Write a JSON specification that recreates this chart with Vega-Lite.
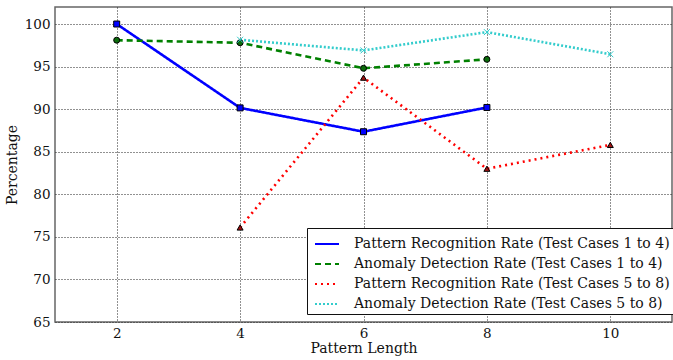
{
  "$schema": "https://vega.github.io/schema/vega-lite/v6.json",
  "width": 617,
  "height": 315,
  "autosize": {"type": "none"},
  "padding": {"left": 55, "top": 7, "right": 1, "bottom": 38},
  "background": "white",
  "config": {
    "font": "DejaVu Serif",
    "view": {"stroke": "#666", "strokeWidth": 1.5},
    "axis": {
      "labelFont": "DejaVu Serif",
      "labelFontSize": 13.5,
      "labelColor": "#111",
      "titleFont": "DejaVu Serif",
      "titleFontSize": 14,
      "titleFontWeight": "normal",
      "titleColor": "#111",
      "domain": false,
      "ticks": false,
      "grid": true,
      "gridColor": "#222",
      "gridDash": [1, 2],
      "gridWidth": 1
    },
    "legend": {
      "labelFont": "DejaVu Serif",
      "labelFontSize": 14,
      "labelColor": "#111"
    }
  },
  "data": {
    "values": [
      {"x": 2, "y": 100.0, "series": "Pattern Recognition Rate (Test Cases 1 to 4)"},
      {"x": 4, "y": 90.15, "series": "Pattern Recognition Rate (Test Cases 1 to 4)"},
      {"x": 6, "y": 87.35, "series": "Pattern Recognition Rate (Test Cases 1 to 4)"},
      {"x": 8, "y": 90.2, "series": "Pattern Recognition Rate (Test Cases 1 to 4)"},
      {"x": 2, "y": 98.1, "series": "Anomaly Detection Rate (Test Cases 1 to 4)"},
      {"x": 4, "y": 97.8, "series": "Anomaly Detection Rate (Test Cases 1 to 4)"},
      {"x": 6, "y": 94.8, "series": "Anomaly Detection Rate (Test Cases 1 to 4)"},
      {"x": 8, "y": 95.85, "series": "Anomaly Detection Rate (Test Cases 1 to 4)"},
      {"x": 4, "y": 76.1, "series": "Pattern Recognition Rate (Test Cases 5 to 8)"},
      {"x": 6, "y": 93.7, "series": "Pattern Recognition Rate (Test Cases 5 to 8)"},
      {"x": 8, "y": 83.0, "series": "Pattern Recognition Rate (Test Cases 5 to 8)"},
      {"x": 10, "y": 85.8, "series": "Pattern Recognition Rate (Test Cases 5 to 8)"},
      {"x": 4, "y": 98.15, "series": "Anomaly Detection Rate (Test Cases 5 to 8)"},
      {"x": 6, "y": 96.9, "series": "Anomaly Detection Rate (Test Cases 5 to 8)"},
      {"x": 8, "y": 99.05, "series": "Anomaly Detection Rate (Test Cases 5 to 8)"},
      {"x": 10, "y": 96.45, "series": "Anomaly Detection Rate (Test Cases 5 to 8)"}
    ]
  },
  "encoding": {
    "x": {
      "field": "x",
      "type": "quantitative",
      "title": "Pattern Length",
      "scale": {"domain": [1, 11], "nice": false, "zero": false},
      "axis": {"values": [2, 4, 6, 8, 10], "labelPadding": 4, "titlePadding": 2, "labelFont": "DejaVu Serif", "labelFontSize": 13.5}
    },
    "y": {
      "field": "y",
      "type": "quantitative",
      "title": "Percentage",
      "scale": {"domain": [65, 102], "nice": false, "zero": false},
      "axis": {"values": [65, 70, 75, 80, 85, 90, 95, 100], "labelPadding": 5, "titlePadding": 5, "labelFont": "DejaVu Serif", "labelFontSize": 13.5}
    }
  },
  "resolve": {
    "scale": {"shape": "independent", "fill": "independent", "stroke": "independent", "strokeWidth": "independent"},
    "legend": {"shape": "independent", "fill": "independent", "stroke": "independent", "strokeWidth": "independent"}
  },
  "layer": [
    {
      "mark": {"type": "line"},
      "encoding": {
        "color": {
          "field": "series",
          "type": "nominal",
          "scale": {
            "domain": [
              "Pattern Recognition Rate (Test Cases 1 to 4)",
              "Anomaly Detection Rate (Test Cases 1 to 4)",
              "Pattern Recognition Rate (Test Cases 5 to 8)",
              "Anomaly Detection Rate (Test Cases 5 to 8)"
            ],
            "range": ["#0000ff", "#008000", "#ff0000", "#33cccc"]
          },
          "legend": {
            "title": null,
            "orient": "none",
            "legendX": 252,
            "legendY": 221,
            "symbolType": "stroke",
            "symbolSize": 576,
            "symbolStrokeWidth": 2,
            "symbolOffset": 4,
            "strokeColor": "#111",
            "fillColor": "white",
            "padding": 3,
            "rowPadding": -4,
            "labelOffset": 14,
            "labelLimit": 400
          }
        },
        "strokeDash": {
          "field": "series",
          "type": "nominal",
          "scale": {
            "domain": [
              "Pattern Recognition Rate (Test Cases 1 to 4)",
              "Anomaly Detection Rate (Test Cases 1 to 4)",
              "Pattern Recognition Rate (Test Cases 5 to 8)",
              "Anomaly Detection Rate (Test Cases 5 to 8)"
            ],
            "range": [[1, 0], [6, 4], [2, 4], [2, 2]]
          },
          "legend": {
            "title": null,
            "orient": "none",
            "legendX": 252,
            "legendY": 221,
            "symbolType": "stroke",
            "symbolSize": 576,
            "symbolStrokeWidth": 2,
            "symbolOffset": 4,
            "strokeColor": "#111",
            "fillColor": "white",
            "padding": 3,
            "rowPadding": -4,
            "labelOffset": 14,
            "labelLimit": 400
          }
        },
        "strokeWidth": {
          "field": "series",
          "type": "nominal",
          "scale": {
            "domain": [
              "Pattern Recognition Rate (Test Cases 1 to 4)",
              "Anomaly Detection Rate (Test Cases 1 to 4)",
              "Pattern Recognition Rate (Test Cases 5 to 8)",
              "Anomaly Detection Rate (Test Cases 5 to 8)"
            ],
            "range": [2.6, 2.6, 2, 1.6]
          },
          "legend": null
        }
      }
    },
    {
      "mark": {"type": "point", "filled": true, "opacity": 1, "strokeWidth": 1},
      "encoding": {
        "shape": {
          "field": "series",
          "type": "nominal",
          "scale": {
            "domain": [
              "Pattern Recognition Rate (Test Cases 1 to 4)",
              "Anomaly Detection Rate (Test Cases 1 to 4)",
              "Pattern Recognition Rate (Test Cases 5 to 8)",
              "Anomaly Detection Rate (Test Cases 5 to 8)"
            ],
            "range": ["square", "circle", "triangle-up", "M-1,-1L1,1M-1,1L1,-1"]
          },
          "legend": null
        },
        "fill": {
          "field": "series",
          "type": "nominal",
          "scale": {
            "domain": [
              "Pattern Recognition Rate (Test Cases 1 to 4)",
              "Anomaly Detection Rate (Test Cases 1 to 4)",
              "Pattern Recognition Rate (Test Cases 5 to 8)",
              "Anomaly Detection Rate (Test Cases 5 to 8)"
            ],
            "range": ["#0000ff", "#0b6b0b", "#a01010", "#33cccc"]
          },
          "legend": null
        },
        "stroke": {
          "field": "series",
          "type": "nominal",
          "scale": {
            "domain": [
              "Pattern Recognition Rate (Test Cases 1 to 4)",
              "Anomaly Detection Rate (Test Cases 1 to 4)",
              "Pattern Recognition Rate (Test Cases 5 to 8)",
              "Anomaly Detection Rate (Test Cases 5 to 8)"
            ],
            "range": ["#000000", "#000000", "#000000", "#33cccc"]
          },
          "legend": null
        },
        "size": {"value": 36}
      }
    }
  ]
}
